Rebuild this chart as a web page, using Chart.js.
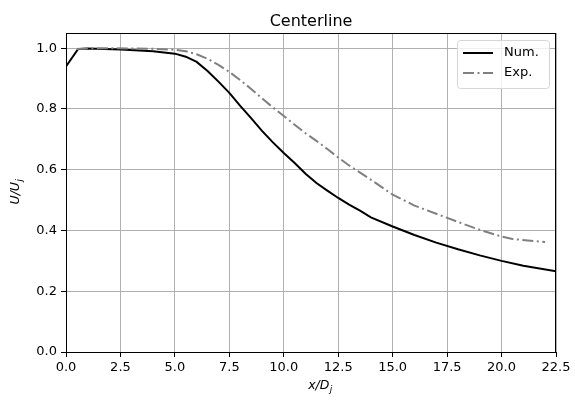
<!DOCTYPE html>
<html>
<head>
<meta charset="utf-8">
<script src="https://cdn.jsdelivr.net/npm/chart.js@4.4.1/dist/chart.umd.min.js"></script>
<style>
  html, body { margin: 0; padding: 0; background: #fff; }
  #wrap { width: 575px; height: 401px; }
</style>
</head>
<body>
<div id="wrap"><canvas id="centerline"></canvas></div>
<script>
// centerline velocity decay, numerical vs experiment
const numX = [0, 0.55, 1, 2.5, 4, 5, 5.5, 6, 6.5, 7, 7.5, 8, 8.5, 9, 9.5, 10, 10.5, 11, 11.5, 12, 12.5, 13, 13.5, 14, 15, 16, 17, 18, 19, 20, 21, 22.5];
const numY = [0.94, 0.997, 0.999, 0.996, 0.99, 0.982, 0.972, 0.955, 0.925, 0.89, 0.853, 0.81, 0.77, 0.728, 0.69, 0.655, 0.622, 0.587, 0.556, 0.531, 0.507, 0.485, 0.465, 0.443, 0.413, 0.385, 0.36, 0.338, 0.318, 0.3, 0.284, 0.266];

const expX = [0.5, 1, 2, 3, 4, 5, 5.5, 6, 6.5, 7, 7.5, 8, 8.5, 9, 9.5, 10, 10.5, 11, 11.5, 12, 12.5, 13, 14, 15, 16, 17, 18, 19, 20, 20.5, 22];
const expY = [0.997, 1.0, 1.0, 0.999, 0.998, 0.995, 0.99, 0.98, 0.965, 0.945, 0.922, 0.895, 0.866, 0.835, 0.805, 0.777, 0.748, 0.72, 0.695, 0.668, 0.64, 0.614, 0.567, 0.518, 0.482, 0.455, 0.428, 0.402, 0.38, 0.372, 0.362];

const seriesNames = ['Num.', 'Exp.'];
const xTicks = [0, 2.5, 5, 7.5, 10, 12.5, 15, 17.5, 20, 22.5];
const yTicks = [0, 0.2, 0.4, 0.6, 0.8, 1.0];

const FONT = "'DejaVu Sans', sans-serif";

function pts(xs, ys) {
  return xs.map((x, i) => ({x: x, y: ys[i]}));
}

// title, axis labels, full frame and legend box, drawn like matplotlib
const mplDecor = {
  id: 'mplDecor',
  afterDatasetsDraw: (chart) => {
    const ctx = chart.ctx;
    const a = chart.chartArea;
    ctx.save();

    // frame
    ctx.strokeStyle = '#000';
    ctx.lineWidth = 1;
    ctx.strokeRect(Math.round(a.left) + 0.5, Math.round(a.top) + 0.5,
      Math.round(a.right - a.left) - 1, Math.round(a.bottom - a.top));

    // title
    ctx.fillStyle = '#000';
    ctx.font = '16px ' + FONT;
    ctx.textAlign = 'center';
    ctx.textBaseline = 'alphabetic';
    ctx.fillText('Centerline', (a.left + a.right) / 2, 26);

    // x label  x/D_j
    const big = 'italic 12.5px ' + FONT, small = 'italic 9px ' + FONT;
    ctx.font = big;
    const w1 = ctx.measureText('x/D').width;
    ctx.font = small;
    const w2 = ctx.measureText('j').width;
    let x0 = 320 - (w1 + w2) / 2;
    ctx.textAlign = 'left';
    ctx.font = big;
    ctx.fillText('x/D', x0, 389);
    ctx.font = small;
    ctx.fillText('j', x0 + w1 + 0.5, 392);

    // y label  U/U_j
    ctx.save();
    ctx.translate(19, 192);
    ctx.rotate(-Math.PI / 2);
    ctx.font = big;
    const v1 = ctx.measureText('U/U').width;
    ctx.font = small;
    const v2 = ctx.measureText('j').width;
    x0 = -(v1 + v2) / 2;
    ctx.font = big;
    ctx.fillText('U/U', x0, 0);
    ctx.font = small;
    ctx.fillText('j', x0 + v1 + 0.5, 3);
    ctx.restore();

    // legend
    const bx = 457, by = 40, bw = 92, bh = 48;
    ctx.beginPath();
    ctx.roundRect(bx + 0.5, by + 0.5, bw, bh, 3);
    ctx.fillStyle = 'rgba(255,255,255,0.8)';
    ctx.fill();
    ctx.strokeStyle = '#d6d6d6';
    ctx.lineWidth = 1;
    ctx.stroke();

    chart.data.datasets.forEach((ds, i) => {
      const y = 53 + i * 20;
      ctx.beginPath();
      ctx.setLineDash(ds.borderDash || []);
      ctx.strokeStyle = ds.borderColor;
      ctx.lineWidth = ds.borderWidth;
      ctx.moveTo(463, y);
      ctx.lineTo(493, y);
      ctx.stroke();
      ctx.setLineDash([]);
      ctx.fillStyle = '#000';
      ctx.font = '13px ' + FONT;
      ctx.textAlign = 'left';
      ctx.textBaseline = 'middle';
      ctx.fillText(ds.label, 504, y);
    });

    ctx.restore();
  }
};

window.addEventListener('load', () => {
  const config = {
    type: 'line',
    data: {
      datasets: [
        {
          label: seriesNames[0],
          data: pts(numX, numY),
          borderColor: '#000000',
          borderWidth: 2,
          pointRadius: 0,
          tension: 0,
          order: 1,
        },
        {
          label: seriesNames[1],
          data: pts(expX, expY),
          borderColor: '#808080',
          borderWidth: 2,
          borderDash: [11, 3.5, 2, 3.5],
          pointRadius: 0,
          tension: 0,
          order: 0,
        },
      ],
    },
    options: {
      responsive: true,
      maintainAspectRatio: false,
      animation: false,
      layout: {
        padding: {top: 33, right: 19, left: 0, bottom: 0},
      },
      plugins: {
        legend: {display: false},
        title: {display: false},
        tooltip: {enabled: false},
      },
      scales: {
        x: {
          type: 'linear',
          min: 0,
          max: 22.5,
          afterBuildTicks: (s) => { s.ticks = xTicks.map(v => ({value: v})); },
          afterFit: (s) => { s.height = 49; },
          border: {display: false},
          grid: {color: '#b0b0b0', lineWidth: 1, tickColor: '#000', tickLength: 5, tickWidth: 1},
          ticks: {
            color: '#000',
            font: {family: FONT, size: 13},
            padding: 3,
            maxRotation: 0,
            callback: (v) => Number(v).toFixed(1),
          },
        },
        y: {
          type: 'linear',
          min: 0,
          max: 1.05,
          afterBuildTicks: (s) => { s.ticks = yTicks.map(v => ({value: v})); },
          afterFit: (s) => { s.width = 66; },
          border: {display: false},
          grid: {color: '#b0b0b0', lineWidth: 1, tickColor: '#000', tickLength: 5, tickWidth: 1},
          ticks: {
            color: '#000',
            font: {family: FONT, size: 13},
            padding: 4,
            callback: (v) => Number(v).toFixed(1),
          },
        },
      },
    },
    plugins: [mplDecor],
  };

  if (document.getElementById('centerline')) {
    const ctx = document.getElementById('centerline').getContext('2d');
    window.centerChart = new Chart(ctx, config);
  }
});
</script>
</body>
</html>
